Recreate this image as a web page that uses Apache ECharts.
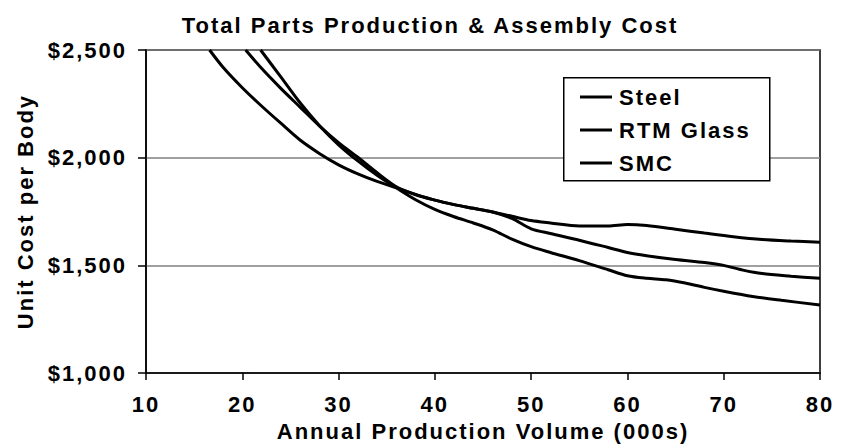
<!DOCTYPE html>
<html>
<head>
<meta charset="utf-8">
<script src="https://cdn.jsdelivr.net/npm/echarts@6/dist/echarts.min.js"></script>
<style>
  html, body { margin: 0; padding: 0; background: #fff; }
  #chart { width: 842px; height: 447px; }
  #chart svg text { letter-spacing: 2px; }
</style>
</head>
<body>
<div id="chart"></div>
<script>
// ---- data ----
const seriesNames = ['Steel', 'RTM Glass', 'SMC'];
const xTicks = [10, 20, 30, 40, 50, 60, 70, 80];
const yTicks = [1000, 1500, 2000, 2500];

const steelX = [21.9, 24, 26, 28, 30, 32, 34, 36, 38, 40, 42, 44, 46, 48, 50, 52, 55, 58, 60, 62, 64, 66, 68, 70, 73, 76, 80];
const steelY = [2500, 2375, 2255, 2150, 2060, 1985, 1918, 1860, 1805, 1760, 1726, 1697, 1665, 1622, 1587, 1560, 1522, 1480, 1452, 1440, 1433, 1418, 1398, 1380, 1356, 1338, 1316];

const rtmX = [20.35, 22, 24, 26, 28, 30, 32, 34, 36, 38, 40, 42, 44, 46, 48, 50, 52, 55, 58, 60, 62, 65, 68, 70, 72, 74, 77, 80];
const rtmY = [2500, 2415, 2322, 2235, 2148, 2070, 2002, 1930, 1865, 1828, 1803, 1782, 1765, 1748, 1718, 1670, 1648, 1617, 1583, 1560, 1545, 1527, 1513, 1500, 1478, 1462, 1450, 1440];

const smcX = [16.6, 18, 20, 22, 24, 26, 28, 30, 32, 34, 36, 38, 40, 42, 44, 46, 48, 50, 52, 55, 58, 60, 62, 65, 68, 71, 74, 77, 80];
const smcY = [2500, 2420, 2325, 2240, 2160, 2082, 2020, 1967, 1925, 1890, 1860, 1830, 1803, 1782, 1765, 1748, 1728, 1708, 1697, 1683, 1683, 1690, 1685, 1668, 1650, 1633, 1620, 1613, 1608];

const seriesX = [steelX, rtmX, smcX];
const seriesY = [steelY, rtmY, smcY];

const FONT = 'Liberation Sans';
const FS = 22;

function pairs(xs, ys) { return xs.map((x, i) => [x, ys[i]]); }
function money(v) { return '$' + v.toLocaleString('en-US'); }

const chart = echarts.init(document.getElementById('chart'), null, { renderer: 'svg' });

const txt = { fontFamily: FONT, fontWeight: 'bold', fontSize: FS, color: '#000' };

chart.setOption({
  animation: false,
  backgroundColor: '#ffffff',
  textStyle: { fontFamily: FONT, fontWeight: 'bold', color: '#000' },
  title: {
    text: 'Total Parts Production & Assembly Cost',
    left: 425, top: 9, textAlign: 'center',
    textStyle: txt
  },
  grid: {
    left: 146, right: 22, top: 50, bottom: 69,
    show: true, borderColor: '#000', borderWidth: 1.5, backgroundColor: 'transparent'
  },
  xAxis: {
    type: 'value', min: xTicks[0], max: xTicks[xTicks.length - 1], interval: 10,
    name: 'Annual Production Volume (000s)', nameLocation: 'middle', nameGap: 41,
    nameTextStyle: txt,
    axisLine: { lineStyle: { color: '#000', width: 1.5 } },
    axisTick: { show: true, inside: false, length: 7, lineStyle: { color: '#000', width: 1.5 } },
    axisLabel: Object.assign({ margin: 20 }, txt),
    splitLine: { show: false }
  },
  yAxis: {
    type: 'value', min: yTicks[0], max: yTicks[yTicks.length - 1], interval: 500,
    name: 'Unit Cost per Body', nameLocation: 'middle', nameGap: 110, nameRotate: 90,
    nameTextStyle: txt,
    axisLine: { show: true, lineStyle: { color: '#000', width: 1.5 } },
    axisTick: { show: true, inside: false, length: 8, lineStyle: { color: '#000', width: 1.5 } },
    axisLabel: Object.assign({ margin: 19, formatter: money }, txt),
    splitLine: { show: true, lineStyle: { color: '#808080', width: 1.5 } }
  },
  graphic: {
    elements: [{
      type: 'rect', left: 563, top: 77, z: 50,
      shape: { width: 206, height: 103 },
      style: { fill: '#fff', stroke: '#000', lineWidth: 1.5 }
    }]
  },
  legend: {
    data: seriesNames.map(n => ({ name: n, icon: 'rect' })),
    orient: 'vertical', left: 563, top: 77, z: 60,
    padding: [9, 14, 9, 17], itemGap: 11,
    itemWidth: 32, itemHeight: 3,
    itemStyle: { color: '#000' },
    textStyle: Object.assign({ padding: [0, 0, 0, 2] }, txt),
    backgroundColor: 'transparent', borderWidth: 0
  },
  series: seriesNames.map((name, i) => ({
    name: name,
    type: 'line',
    data: pairs(seriesX[i], seriesY[i]),
    smooth: 0.3,
    symbol: 'none',
    clip: true,
    color: '#000',
    lineStyle: { color: '#000', width: 3 }
  }))
});
</script>
</body>
</html>
